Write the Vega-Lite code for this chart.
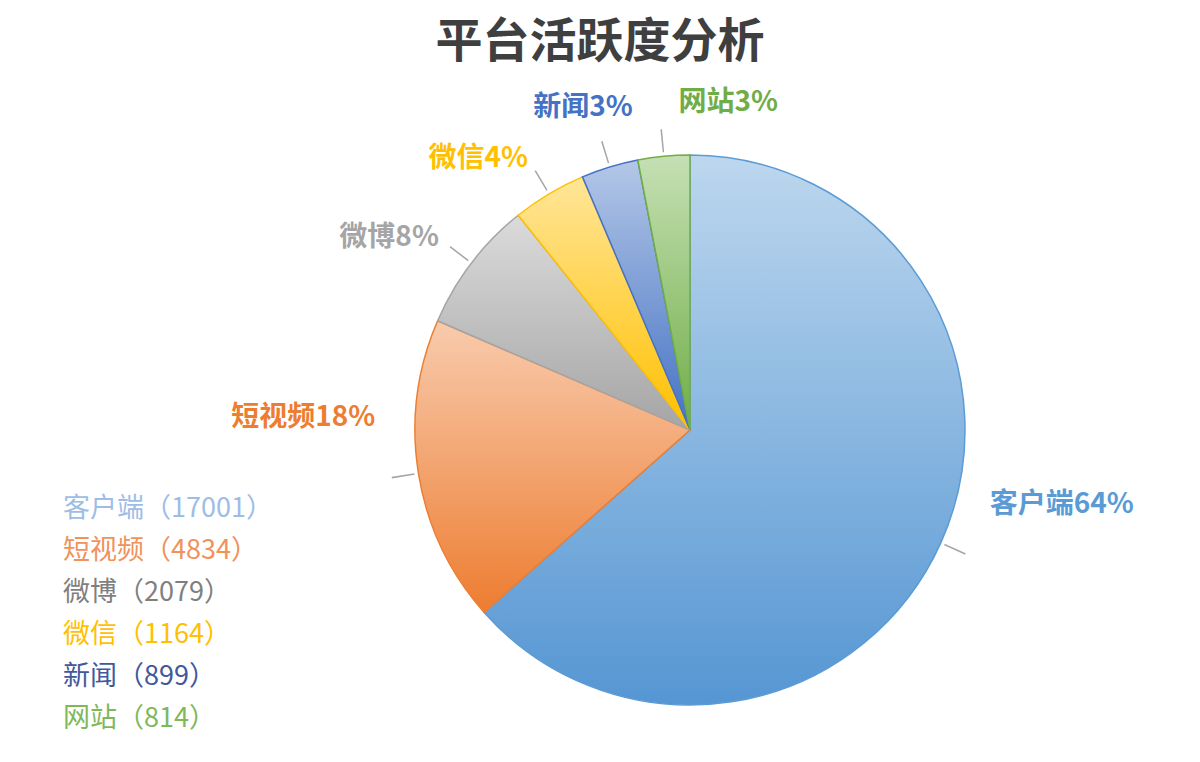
{
  "$schema": "https://vega.github.io/schema/vega-lite/v6.json",
  "width": 600,
  "height": 600,
  "autosize": {"type": "none"},
  "padding": {"left": 390, "right": 210, "top": 130, "bottom": 32},
  "background": "white",
  "title": {
    "text": "平台活跃度分析",
    "frame": "group",
    "anchor": "middle",
    "dx": -90,
    "offset": 22,
    "font": "Noto Sans CJK SC",
    "fontSize": 47,
    "fontWeight": "bold",
    "color": "#3f3f3f"
  },
  "config": {
    "view": {"stroke": null},
    "text": {"font": "Noto Sans CJK SC", "fontSize": 28, "fontWeight": "bold", "baseline": "middle"}
  },
  "data": {
    "values": [
      {"cat": "客户端", "value": 17001, "pct": 64},
      {"cat": "短视频", "value": 4834, "pct": 18},
      {"cat": "微博", "value": 2079, "pct": 8},
      {"cat": "微信", "value": 1164, "pct": 4},
      {"cat": "新闻", "value": 899, "pct": 3},
      {"cat": "网站", "value": 814, "pct": 3}
    ]
  },
  "transform": [
    {"stack": "value", "groupby": [], "as": ["v0", "v1"]},
    {"joinaggregate": [{"op": "sum", "field": "value", "as": "total"}]},
    {"calculate": "(datum.v0 + datum.v1) / 2", "as": "mid"},
    {"calculate": "datum.mid - datum.total / 2400", "as": "l0"},
    {"calculate": "datum.mid + datum.total / 2400", "as": "l1"},
    {"calculate": "datum.cat + datum.pct + '%'", "as": "label"},
    {"calculate": "datum.cat + '（' + datum.value + '）'", "as": "legend"}
  ],
  "encoding": {
    "color": {
      "field": "cat",
      "type": "nominal",
      "sort": null,
      "scale": {"domain": ["客户端", "短视频", "微博", "微信", "新闻", "网站"], "range": ["#5b9bd5", "#ed7d31", "#a5a5a5", "#ffc000", "#4472c4", "#70ad47"]},
      "legend": null
    }
  },
  "layer": [
    {
      "mark": {"type": "arc", "outerRadius": 275, "strokeWidth": 1.5},
      "encoding": {
        "theta": {"field": "v0", "type": "quantitative", "stack": null, "scale": {"domain": [0, 26791]}},
        "theta2": {"field": "v1"},
        "fill": {
          "condition": [
            {"test": "datum.cat === '客户端'", "value": {"gradient": "linear", "x1": 0, "y1": 0, "x2": 0, "y2": 1, "stops": [{"offset": 0, "color": "#bdd7ee"}, {"offset": 1, "color": "#5596d3"}]}},
            {"test": "datum.cat === '短视频'", "value": {"gradient": "linear", "x1": 0, "y1": 0, "x2": 0, "y2": 1, "stops": [{"offset": 0, "color": "#f8cbad"}, {"offset": 1, "color": "#ed7d31"}]}},
            {"test": "datum.cat === '微博'", "value": {"gradient": "linear", "x1": 0, "y1": 0, "x2": 0, "y2": 1, "stops": [{"offset": 0, "color": "#dbdbdb"}, {"offset": 1, "color": "#a5a5a5"}]}},
            {"test": "datum.cat === '微信'", "value": {"gradient": "linear", "x1": 0, "y1": 0, "x2": 0, "y2": 1, "stops": [{"offset": 0, "color": "#ffe699"}, {"offset": 1, "color": "#ffc000"}]}},
            {"test": "datum.cat === '新闻'", "value": {"gradient": "linear", "x1": 0, "y1": 0, "x2": 0, "y2": 1, "stops": [{"offset": 0, "color": "#b4c7e7"}, {"offset": 1, "color": "#4472c4"}]}},
            {"test": "datum.cat === '网站'", "value": {"gradient": "linear", "x1": 0, "y1": 0, "x2": 0, "y2": 1, "stops": [{"offset": 0, "color": "#c5e0b4"}, {"offset": 1, "color": "#70ad47"}]}}
          ],
          "value": "#cccccc"
        },
        "stroke": {
          "field": "cat",
          "type": "nominal",
          "sort": null,
          "scale": {"range": ["#5b9bd5", "#ed7d31", "#a5a5a5", "#ffc000", "#4472c4", "#70ad47"]},
          "legend": null
        }
      }
    },
    {
      "mark": {"type": "arc", "innerRadius": 279, "outerRadius": 302},
      "encoding": {
        "theta": {"field": "l0", "type": "quantitative", "stack": null},
        "theta2": {"field": "l1"},
        "color": {"value": "#a6a6a6"}
      }
    },
    {
      "transform": [{"filter": {"field": "cat", "equal": "客户端"}}],
      "mark": {"type": "text", "radius": 309, "thetaOffset": -0.178, "align": "left"},
      "encoding": {
        "theta": {"field": "mid", "type": "quantitative", "stack": null},
        "text": {"field": "label"}
      }
    },
    {
      "transform": [{"filter": {"field": "cat", "equal": "短视频"}}],
      "mark": {"type": "text", "radius": 315, "thetaOffset": 0.197, "align": "right"},
      "encoding": {
        "theta": {"field": "mid", "type": "quantitative", "stack": null},
        "text": {"field": "label"}
      }
    },
    {
      "transform": [{"filter": {"field": "cat", "oneOf": ["微博", "微信"]}}],
      "mark": {"type": "text", "radius": 316, "align": "right"},
      "encoding": {
        "theta": {"field": "mid", "type": "quantitative", "stack": null},
        "text": {"field": "label"}
      }
    },
    {
      "transform": [{"filter": {"field": "cat", "equal": "新闻"}}],
      "mark": {"type": "text", "radius": 327, "thetaOffset": 0.12, "align": "right"},
      "encoding": {
        "theta": {"field": "mid", "type": "quantitative", "stack": null},
        "text": {"field": "label"}
      }
    },
    {
      "transform": [{"filter": {"field": "cat", "equal": "网站"}}],
      "mark": {"type": "text", "radius": 327, "thetaOffset": 0.06, "align": "left"},
      "encoding": {
        "theta": {"field": "mid", "type": "quantitative", "stack": null},
        "text": {"field": "label"}
      }
    },
    {
      "mark": {"type": "arc", "outerRadius": 1, "opacity": 0},
      "encoding": {
        "theta": {"field": "v0", "type": "quantitative", "stack": null},
        "theta2": {"field": "v1"},
        "color": {"value": "transparent"},
        "fill": {
          "field": "legend",
          "type": "nominal",
          "sort": null,
          "scale": {"range": ["#9dbde6", "#f0925a", "#7f7f7f", "#ffc000", "#41589a", "#7fb85a"]},
          "legend": {
            "title": null,
            "orient": "none",
            "legendX": -354,
            "legendY": 365,
            "padding": 0,
            "symbolSize": 0,
            "symbolOpacity": 0,
            "symbolStrokeWidth": 0,
            "labelOffset": 0,
            "labelFont": "Noto Sans CJK SC",
            "labelFontSize": 27,
            "labelLimit": 400,
            "rowPadding": 14,
            "encode": {"labels": {"update": {"fill": {"signal": "scale('fill', datum.value)"}}}}
          }
        }
      }
    }
  ]
}
